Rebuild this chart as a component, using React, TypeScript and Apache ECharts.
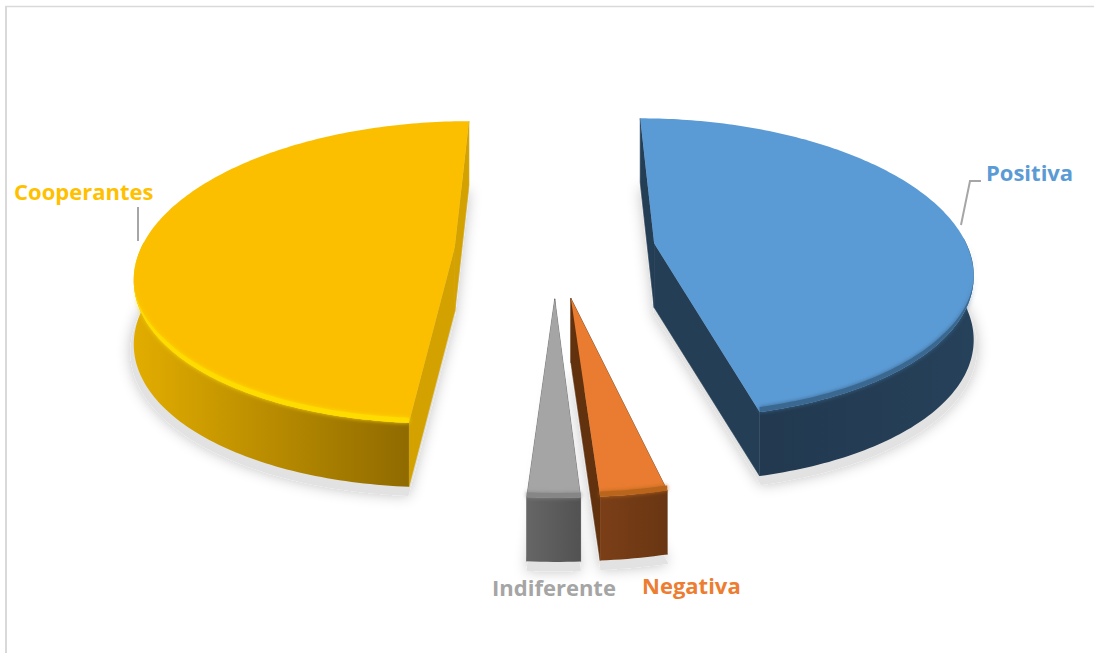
import React, { useEffect, useRef } from "react";
import * as echarts from "echarts";

const categories = ["Positiva", "Negativa", "Indiferente", "Cooperantes"];
const seriesValues = [46.25, 2.72, 2.14, 48.89];
const topColors = ["#5b9bd5", "#e97c30", "#a5a5a5", "#fbbf00"];
const rimColors = ["#3a6890", "#b9651f", "#868686", "#ffdc00"];
const wallColors = ["#243e55", "#62320f", "#5c5c5c", "#d4a200"];
const outerWallStops = [
  ["#22394f", "#26415a"],
  ["#7b3f17", "#693613"],
  ["#666666", "#525252"],
  ["#e2ad00", "#8f6a00"],
];
const paintOrder = [3, 0, 2, 1];

const START_DEG = 0;
const CX = 555, CY = 249, RX = 314, RY = 147.5, K = 0.165, EXPLODE = 0.32, DEPTH = 64;

const total = seriesValues.reduce((a, b) => a + b, 0);
function sliceAngles(i: number) {
  let a = START_DEG;
  for (let j = 0; j < i; j++) a += (seriesValues[j] / total) * 360;
  return [a, a + (seriesValues[i] / total) * 360];
}
function project(u: number, v: number): [number, number] {
  const w = 1 - K * v;
  return [CX + (RX * u) / w, CY + (RY * v) / w];
}
function diskPoint(i: number, deg: number, r: number) {
  const [a0, a1] = sliceAngles(i);
  const mid = ((a0 + a1) / 2) * (Math.PI / 180);
  const t = deg * (Math.PI / 180);
  return {
    u: EXPLODE * Math.sin(mid) + r * Math.sin(t),
    v: -EXPLODE * Math.cos(mid) - r * Math.cos(t),
  };
}
function arc(i: number, r = 1) {
  const [a0, a1] = sliceAngles(i);
  const out: { u: number; v: number }[] = [];
  const n = Math.max(6, Math.round(a1 - a0));
  for (let s = 0; s <= n; s++) out.push(diskPoint(i, a0 + ((a1 - a0) * s) / n, r));
  return out;
}
const toTop = (p: { u: number; v: number }) => project(p.u, p.v);
const toBottom = (p: { u: number; v: number }) => {
  const q = project(p.u, p.v);
  return [q[0], q[1] + DEPTH] as [number, number];
};

function renderShadow(_: any, api: any) {
  const i = api.value(0);
  const [a0] = sliceAngles(i);
  const apex = diskPoint(i, a0, 0);
  const pts = [apex, ...arc(i, 1.01)].map(toBottom).map(([x, y]) => [x, y + 7]);
  return {
    type: "polygon",
    shape: { points: pts },
    style: {
      fill: "#e2e2e2",
      shadowBlur: 14,
      shadowColor: "rgba(0,0,0,0.24)",
    },
  };
}

function renderSlice(_: any, api: any) {
  const i = api.value(0);
  const [a0] = sliceAngles(i);
  const apex = diskPoint(i, a0, 0);
  const ring = arc(i);
  const first = ring[0];
  const last = ring[ring.length - 1];
  const wall = (p: any, q: any) => ({
    type: "polygon",
    shape: { points: [toTop(p), toTop(q), toBottom(q), toBottom(p)] },
    style: { fill: wallColors[i], stroke: wallColors[i], lineWidth: 0.6 },
  });
  const topPts = ring.map(toTop);
  const outerRing = ring.filter((p) => p.v - apex.v > -0.05);
  const rimRing = ring.filter((p) => p.v - apex.v > 0);
  const xs = outerRing.map(toTop).map((p) => p[0]);
  const outer = {
    type: "polygon",
    shape: { points: [...outerRing.map(toTop), ...outerRing.map(toBottom).reverse()] },
    style: {
      fill: {
        type: "linear",
        x: Math.min(...xs),
        y: 0,
        x2: Math.max(...xs),
        y2: 0,
        global: true,
        colorStops: [
          { offset: 0, color: outerWallStops[i][0] },
          { offset: 1, color: outerWallStops[i][1] },
        ],
      },
    },
  };
  const top = {
    type: "polygon",
    shape: { points: [toTop(apex), ...topPts] },
    style: { fill: topColors[i] },
  };
  const thickness = (p: { v: number }) => 5 * Math.min(1, (p.v - apex.v) / 0.6);
  const rim = {
    type: "polygon",
    shape: {
      points: [
        ...rimRing.map(toTop),
        ...rimRing
          .map((p) => {
            const q = toTop(p);
            return [q[0], q[1] - thickness(p)];
          })
          .reverse(),
      ],
    },
    style: {
      fill: rimColors[i],
      shadowBlur: 4,
      shadowColor: rimColors[i],
    },
  };
  return {
    type: "group",
    children: [wall(apex, first), wall(apex, last), outer, top, rim],
  };
}

const labelColors = ["#5b9bd5", "#ed7d31", "#a5a5a5", "#ffc000"];
const labelAnchors = [
  [986, 172],
  [642, 585],
  [492, 587],
  [14, 191],
];
const leaders = [
  [[961, 225], [970, 181], [981, 181]],
  [[138, 207], [138, 241]],
];

export default function App() {
  const ref = useRef<HTMLDivElement>(null);
  useEffect(() => {
    const chart = echarts.init(ref.current!, null, { renderer: "svg" });
    const idx = paintOrder.map((i) => [i, seriesValues[i]]);
    chart.setOption({
      animation: false,
      backgroundColor: "#ffffff",
      series: [
        { type: "custom", coordinateSystem: "none", renderItem: renderShadow, data: idx, silent: true, z: 1 },
        { type: "custom", coordinateSystem: "none", renderItem: renderSlice, data: idx, silent: true, z: 2 },
      ],
      graphic: [
        { type: "line", shape: { x1: 6, y1: 6, x2: 6, y2: 653 }, style: { stroke: "#d9d9d9", lineWidth: 2 } },
        { type: "line", shape: { x1: 5, y1: 6.5, x2: 1094, y2: 6.5 }, style: { stroke: "#d9d9d9", lineWidth: 1.5 } },
        ...leaders.map((l) => ({
          type: "polyline",
          shape: { points: l },
          style: { stroke: "#a6a6a6", lineWidth: 2, fill: null },
          z: 5,
        })),
        ...categories.map((name, i) => ({
          type: "text",
          x: labelAnchors[i][0],
          y: labelAnchors[i][1],
          z: 6,
          style: {
            text: name,
            fill: labelColors[i],
            font: 'bold 22px "Open Sans", Lato, sans-serif',
            textVerticalAlign: "middle",
            textAlign: "left",
          },
        })),
      ],
    });
    return () => chart.dispose();
  }, []);
  return <div ref={ref} style={{ position: "absolute", left: 0, top: 0, width: 1094, height: 653 }} />;
}
